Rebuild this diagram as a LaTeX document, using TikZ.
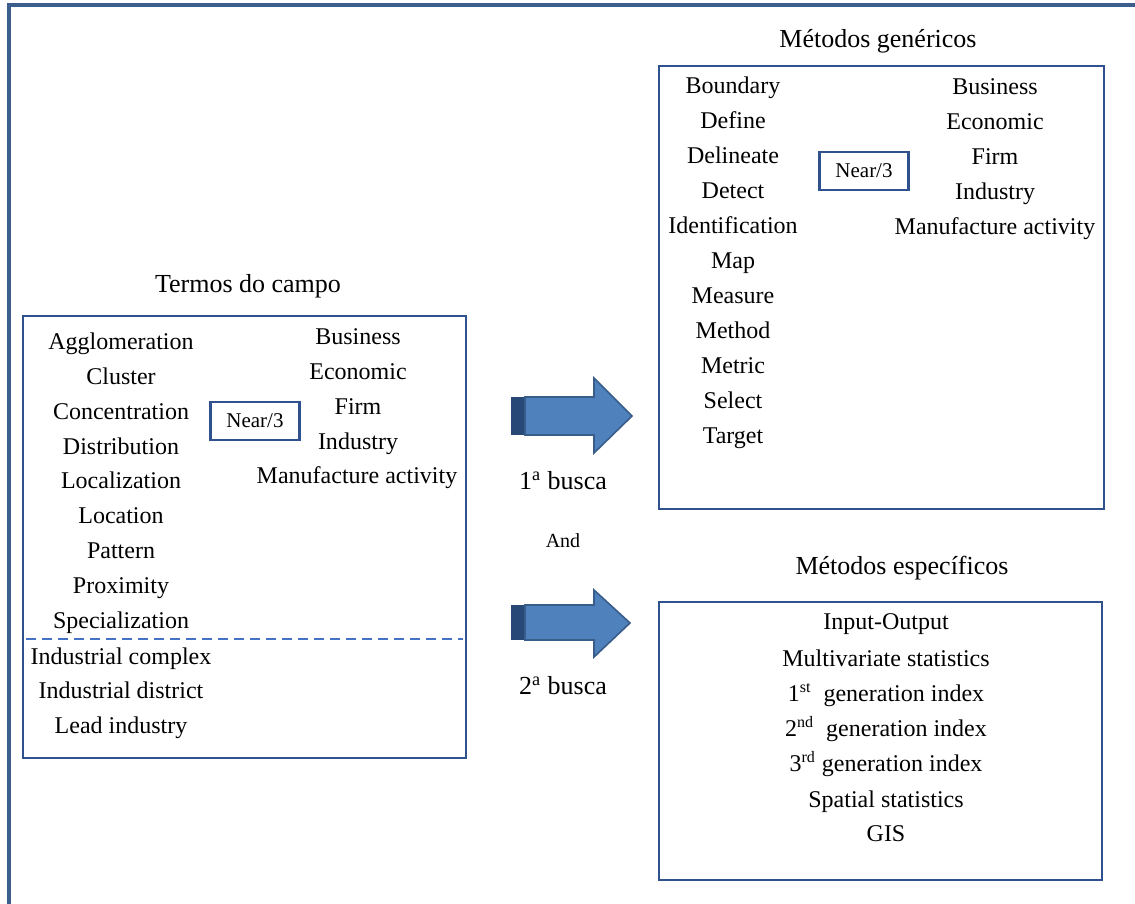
\documentclass[tikz,border=0pt]{standalone}
\usepackage{fontspec}
\setmainfont{Liberation Serif}
\definecolor{moldura}{RGB}{59,94,140}
\definecolor{caixaazul}{RGB}{47,82,143}
\definecolor{tracoazul}{RGB}{68,114,196}
\definecolor{setafill}{RGB}{79,129,189}
\definecolor{setaborda}{RGB}{56,93,138}
\definecolor{setaescura}{RGB}{40,72,120}
\tikzset{
  caixa/.style={draw=caixaazul, line width=1.1pt},
  item/.style={font=\fontsize{12}{14}\selectfont, inner sep=0pt, text height=8.2pt, text depth=2.6pt, yshift=-1pt},
  titulo/.style={font=\fontsize{13}{15}\selectfont, inner sep=0pt, text height=8.8pt, text depth=2.8pt, yshift=-1pt},
  near/.style={draw=caixaazul, line width=1.1pt, font=\fontsize{10.5}{12}\selectfont,
    minimum width=44.5pt, minimum height=19pt, inner sep=0pt},
  seta/.style={fill=setafill, draw=setaborda, line width=0.8pt, line join=miter}
}
\begin{document}
\begin{tikzpicture}[x=0.5pt,y=-0.5pt]
    \useasboundingbox (0,0) rectangle (1135,904);
    % moldura
    \draw[moldura, line width=2pt] (9,904) -- (9,5) -- (1135,5);

    % termos do campo
    \node[titulo] (tcampo) at (248,284) {Termos do campo};
    \draw[caixa] (23,316) rectangle (466,758);
    \draw[tracoazul, dashed, line width=1.1pt, dash pattern=on 5pt off 3pt] (26,639) -- (463,639);
    \node[item] (agl) at (121,342) {Agglomeration};
    \node[item] (clu) at (121,377) {Cluster};
    \node[item] (con) at (121,412) {Concentration};
    \node[item] (dis) at (121,447) {Distribution};
    \node[item] (lcz) at (121,481) {Localization};
    \node[item] (loc) at (121,516) {Location};
    \node[item] (pat) at (121,551) {Pattern};
    \node[item] (pro) at (121,586) {Proximity};
    \node[item] (spe) at (121,621) {Specialization};
    \node[item] (inc) at (121,657) {Industrial complex};
    \node[item] (ind) at (121,691) {Industrial district};
    \node[item] (lea) at (121,726) {Lead industry};
    \node[near] (near1) at (255,421) {Near/3};
    \node[item] (bus1) at (358,337) {Business};
    \node[item] (eco1) at (358,372) {Economic};
    \node[item] (fir1) at (358,407) {Firm};
    \node[item] (ids1) at (358,442) {Industry};
    \node[item] (man1) at (357,476) {Manufacture activity};

    % setas
    \fill[setaescura] (511,397) rectangle (525,435);
    \draw[seta] (525,397) -- (594,397) -- (594,378) -- (632,416) -- (594,453) -- (594,435) -- (525,435) -- cycle;
    \fill[setaescura] (511,605) rectangle (525,640);
    \draw[seta] (525,605) -- (594,605) -- (594,590) -- (630,623) -- (594,657) -- (594,640) -- (525,640) -- cycle;
    \node[titulo] (busca1) at (563,481) {1\textsuperscript{a} busca};
    \node[font=\fontsize{10}{12}\selectfont, inner sep=0pt] (and) at (563,541) {And};
    \node[titulo] (busca2) at (563,686) {2\textsuperscript{a} busca};

    % metodos genericos
    \node[titulo] (tgen) at (878,40) {Métodos genéricos};
    \draw[caixa] (659,66) rectangle (1104,509);
    \node[item] (bou) at (733,86) {Boundary};
    \node[item] (def) at (733,121) {Define};
    \node[item] (del) at (733,156) {Delineate};
    \node[item] (det) at (733,191) {Detect};
    \node[item] (ide) at (733,226) {Identification};
    \node[item] (map) at (733,261) {Map};
    \node[item] (mea) at (733,296) {Measure};
    \node[item] (met) at (733,331) {Method};
    \node[item] (mtr) at (733,366) {Metric};
    \node[item] (sel) at (733,401) {Select};
    \node[item] (tar) at (733,436) {Target};
    \node[near] (near2) at (864,171) {Near/3};
    \node[item] (bus2) at (995,87) {Business};
    \node[item] (eco2) at (995,122) {Economic};
    \node[item] (fir2) at (995,157) {Firm};
    \node[item] (ids2) at (995,192) {Industry};
    \node[item] (man2) at (995,227) {Manufacture activity};

    % metodos especificos
    \node[titulo] (tesp) at (902,566) {Métodos específicos};
    \draw[caixa] (659,602) rectangle (1102,880);
    \node[item] (inp) at (886,622) {Input-Output};
    \node[item] (mul) at (886,659) {Multivariate statistics};
    \node[item] (gen1) at (886,694) {1\textsuperscript{st}\ \ generation index};
    \node[item] (gen2) at (886,729) {2\textsuperscript{nd}\ \ generation index};
    \node[item] (gen3) at (886,764) {3\textsuperscript{rd} generation index};
    \node[item] (spa) at (886,800) {Spatial statistics};
    \node[item] (gis) at (886,834) {GIS};
\end{tikzpicture}
\end{document}
